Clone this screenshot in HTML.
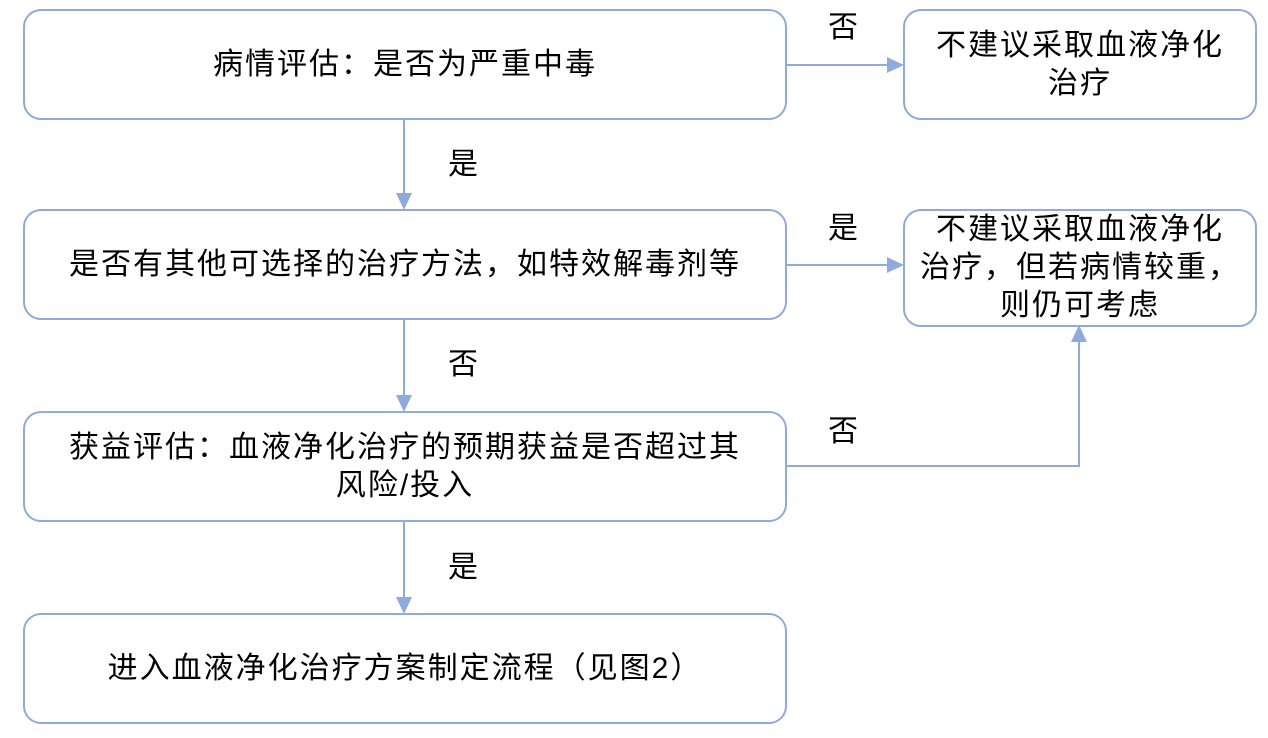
<!DOCTYPE html>
<html><head><meta charset="utf-8"><style>
body{margin:0;width:1268px;height:738px;background:#fff;position:relative;overflow:hidden;font-family:"Liberation Sans","Noto Sans CJK SC",sans-serif;color:#000}
.b{position:absolute;box-sizing:border-box;border:2px solid #8faadc;border-radius:18px;display:flex;align-items:center;justify-content:center;text-align:center;font-size:30px;letter-spacing:2px;line-height:38px}
.l{position:absolute;font-size:30px;line-height:30px}
svg{position:absolute;left:0;top:0}
</style></head><body>
<svg width="1268" height="738">
<g stroke="#8faadc" stroke-width="2" fill="none">
<line x1="404" y1="119" x2="404" y2="195"/>
<line x1="404" y1="319" x2="404" y2="397"/>
<line x1="404" y1="521" x2="404" y2="599"/>
<line x1="786" y1="65" x2="889" y2="65"/>
<line x1="786" y1="265" x2="889" y2="265"/>
<polyline points="786,466 1079,466 1079,340"/>
</g>
<g fill="#8faadc">
<polygon points="396,193 412,193 404,210"/>
<polygon points="396,395 412,395 404,412"/>
<polygon points="396,597 412,597 404,614"/>
<polygon points="887,57 887,73 904,65"/>
<polygon points="887,257 887,273 904,265"/>
<polygon points="1071,342 1087,342 1079,325"/>
</g>
</svg>
<div class="b" style="left:23px;top:9px;width:764px;height:111px">病情评估：是否为严重中毒</div>
<div class="b" style="left:23px;top:209px;width:764px;height:111px">是否有其他可选择的治疗方法，如特效解毒剂等</div>
<div class="b" style="left:23px;top:411px;width:764px;height:111px">获益评估：血液净化治疗的预期获益是否超过其<br>风险/投入</div>
<div class="b" style="left:23px;top:613px;width:764px;height:111px">进入血液净化治疗方案制定流程（见图2）</div>
<div class="b" style="left:903px;top:9px;width:354px;height:111px">不建议采取血液净化<br>治疗</div>
<div class="b" style="left:903px;top:209px;width:354px;height:118px">不建议采取血液净化<br>治疗，但若病情较重，<br>则仍可考虑</div>
<div class="l" style="left:828px;top:13px">否</div>
<div class="l" style="left:448px;top:150px">是</div>
<div class="l" style="left:828px;top:214px">是</div>
<div class="l" style="left:448px;top:350px">否</div>
<div class="l" style="left:828px;top:417px">否</div>
<div class="l" style="left:448px;top:553px">是</div>
</body></html>
